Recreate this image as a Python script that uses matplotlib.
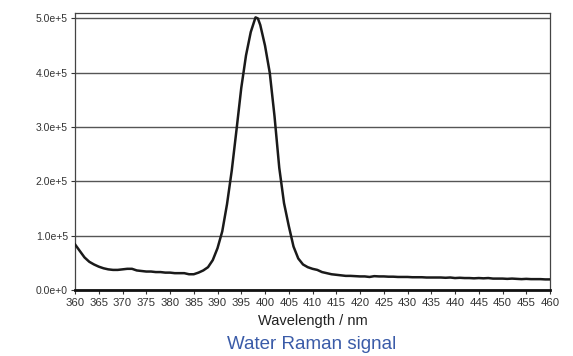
import matplotlib
matplotlib.use("Agg")
import matplotlib.pyplot as plt
from matplotlib.ticker import FuncFormatter

plt.rcParams['font.family'] = ['Liberation Sans', 'DejaVu Sans']

wavelength = [360, 361, 362, 363, 364, 365, 366, 367, 368, 369, 370, 371, 372, 373, 374,
              375, 376, 377, 378, 379, 380, 381, 382, 383, 384, 385, 386, 387, 388, 389,
              390, 391, 392, 393, 394, 395, 396, 397, 398, 398.5, 399, 400, 401, 402, 403,
              404, 405, 406, 407, 408, 409, 410, 411, 412, 413, 414, 415, 416, 417, 418,
              419, 420, 421, 422, 423, 424, 425, 426, 427, 428, 429, 430, 431, 432, 433,
              434, 435, 436, 437, 438, 439, 440, 441, 442, 443, 444, 445, 446, 447, 448,
              449, 450, 451, 452, 453, 454, 455, 456, 457, 458, 459, 460]
intensity = [0.84, 0.72, 0.60, 0.52, 0.47, 0.43, 0.40, 0.38, 0.37, 0.37, 0.38, 0.39, 0.39,
             0.36, 0.35, 0.34, 0.34, 0.33, 0.33, 0.32, 0.32, 0.31, 0.31, 0.31, 0.29, 0.29,
             0.32, 0.36, 0.42, 0.55, 0.77, 1.08, 1.58, 2.20, 2.95, 3.72, 4.32, 4.75, 5.02,
             5.00, 4.88, 4.50, 4.00, 3.20, 2.25, 1.60, 1.18, 0.80, 0.58, 0.47, 0.42, 0.39,
             0.37, 0.33, 0.31, 0.29, 0.28, 0.27, 0.26, 0.26, 0.255, 0.25, 0.25, 0.24, 0.255,
             0.25, 0.25, 0.245, 0.245, 0.24, 0.24, 0.24, 0.235, 0.235, 0.235, 0.23, 0.23,
             0.23, 0.23, 0.225, 0.23, 0.22, 0.225, 0.22, 0.22, 0.215, 0.22, 0.215, 0.22,
             0.21, 0.21, 0.21, 0.205, 0.21, 0.205, 0.20, 0.205, 0.20, 0.20, 0.20, 0.195, 0.195]
intensity = [v * 1e5 for v in intensity]

xticks = list(range(360, 461, 5))
yticks = [0, 1e5, 2e5, 3e5, 4e5, 5e5]

fig = plt.figure(figsize=(5.73, 3.56), dpi=100)
ax = fig.add_axes([0.1309, 0.1854, 0.829, 0.778])

ax.plot(wavelength, intensity, color='#1a1a1a', lw=1.8, zorder=3)

ax.set_xlim(360, 460)
ax.set_ylim(0, 5.1e5)
ax.set_xticks(xticks)
ax.set_yticks(yticks)
ax.yaxis.set_major_formatter(FuncFormatter(lambda v, p: f"{v/1e5:.1f}e+{5 if v else 0}"))
ax.grid(axis='y', color='#555555', lw=1.0, zorder=1)
ax.tick_params(axis='both', labelsize=7.5, colors='#333333', length=3, width=0.8,
               direction='out', pad=2)
ax.tick_params(axis='x', labelsize=8.2, pad=3)
for s in ['left', 'top', 'right']:
    ax.spines[s].set_color('#444444')
    ax.spines[s].set_linewidth(0.9)
ax.spines['bottom'].set_color('#111111')
ax.spines['bottom'].set_linewidth(2.0)

ax.set_xlabel('Wavelength / nm', fontsize=10.5, color='#222222', labelpad=4)
fig.text(0.5445, 0.031, 'Water Raman signal', ha='center', va='center', fontsize=13.5,
         color='#3a5ba8')

fig.savefig('out.png', dpi=100)
